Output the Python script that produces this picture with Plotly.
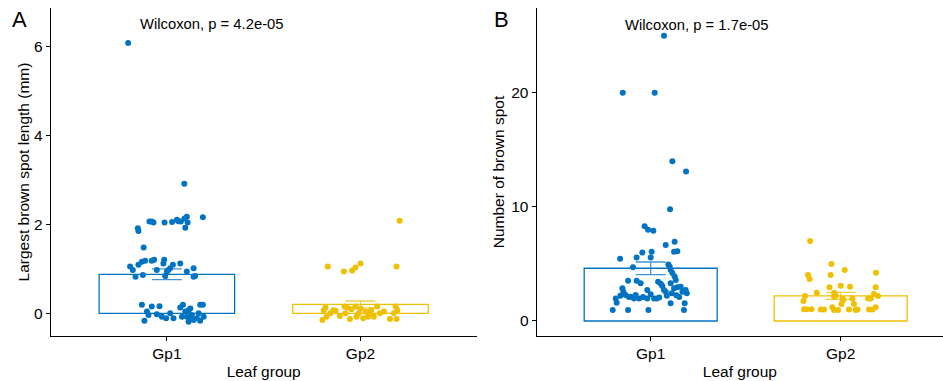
import plotly.graph_objects as go

# ---------------- data ----------------
groups = ["Gp1", "Gp2"]

# Panel A: largest brown spot length (mm) - plotted (jittered) values
a_gp1_len = [6.07, 2.91,
             1.91, 1.85, 2.06, 2.06, 2.04, 2.04, 2.05, 2.10, 2.07, 2.06, 2.13, 2.17, 2.04, 1.92, 2.16,
             1.48,
             1.05, 0.97, 0.82, 1.09, 0.86, 1.16, 1.18, 1.18, 1.20, 0.97, 1.20, 1.12, 0.84, 0.97, 1.01,
             1.09, 1.12, 0.94, 1.01, 0.82, 0.84, 0.94,
             0.19, -0.17, 0.04, -0.04, 0.15, -0.02, 0.16, -0.08, -0.11, 0.00, -0.11, 0.13, 0.19, 0.04,
             0.07, 0.11, -0.08, -0.19, -0.11, -0.15, -0.11, 0.00, 0.19, 0.19, -0.08, -0.17, -0.04, -0.08]
a_gp1_jit = [-0.200, 0.090,
             -0.150, -0.147, -0.090, -0.078, -0.069, -0.012, 0.027, 0.052, 0.060, 0.072, 0.091, 0.103, 0.107, 0.095, 0.186,
             -0.120,
             -0.190, -0.176, -0.162, -0.147, -0.124, -0.129, -0.112, -0.078, -0.066, -0.052, -0.014, -0.018, -0.009, 0.008, 0.017,
             0.031, 0.069, 0.103, 0.138, 0.138, 0.146, 0.000,
             -0.129, -0.116, -0.103, -0.095, -0.078, -0.052, -0.038, -0.026, -0.004, 0.017, 0.034, 0.069, 0.083, 0.095,
             0.112, 0.121, 0.103, 0.112, 0.117, 0.138, 0.155, 0.164, 0.172, 0.186, 0.190, 0.172, 0.129, 0.078]

a_gp2_len = [2.08, 1.05, 0.94, 0.96, 1.03, 1.12, 1.05,
             0.07, -0.15, 0.13, 0.00, 0.06, -0.06, 0.15, -0.13, 0.09, 0.15, 0.00, -0.11, 0.04, 0.00, -0.08,
             0.15, 0.00, -0.13, 0.15, -0.13, 0.07, -0.08, 0.07, 0.00, -0.08, 0.11, -0.08, 0.07, 0.04, 0.00, 0.13]
a_gp2_jit = [0.202, -0.169, -0.086, -0.043, -0.026, 0.000, 0.186,
             -0.190, -0.197, -0.181, -0.155, -0.129, -0.107, -0.083, -0.055, -0.047, -0.026, -0.009, 0.014, 0.026, 0.048, 0.069,
             0.086, 0.100, 0.152, 0.181, 0.186, 0.190, -0.176, -0.141, -0.078, -0.021, 0.000, 0.038, 0.055, 0.121, 0.172, -0.069]

# Panel B: number of brown spots - plotted (jittered) values
b_gp1_cnt = [25.0, 20.0, 20.0, 14.0, 13.1, 9.8, 8.3, 8.0, 7.9, 6.95, 6.65, 6.06, 6.12, 6.0, 6.06, 5.57, 5.57, 5.45,
             4.70, 4.96, 4.75, 4.50, 4.20, 3.90, 3.60, 3.53, 3.53, 3.30, 2.86, 2.57, 2.27, 2.71, 3.44, 3.27, 3.06,
             2.71, 2.57, 3.30, 2.86, 2.42, 2.95, 3.00, 2.57, 2.71, 2.42, 2.13, 1.98, 2.27, 1.98, 1.98, 1.98, 1.98,
             1.98, 1.60, 0.96, 0.96, 0.96, 0.96, 1.55, 1.55, 2.10, 2.25, 2.10, 2.10, 2.20, 2.20, 2.35, 2.05]
b_gp1_jit = [0.070, -0.147, 0.021, 0.114, 0.186, 0.102, -0.032, -0.014, 0.014, 0.126, 0.079, 0.123, 0.140, -0.044, 0.005, -0.074, 0.000, -0.161,
             -0.093, 0.093, 0.100, 0.105, 0.114, 0.126, 0.132, -0.119, -0.074, -0.053, -0.149, -0.144, -0.132, -0.018, 0.039, 0.053, 0.061,
             0.070, 0.079, 0.105, 0.123, 0.111, 0.140, 0.158, 0.167, 0.184, 0.190, -0.105, -0.088, -0.079, -0.061, -0.018, 0.018, 0.032,
             -0.184, -0.179, -0.200, -0.119, -0.012, 0.175, 0.105, 0.179, 0.150, 0.135, -0.115, -0.040, 0.085, -0.160, 0.000, 0.045]

b_gp2_cnt = [7.0, 4.99, 4.02, 3.67, 4.02, 4.46, 4.23, 3.09, 2.95, 3.00, 2.95, 2.48, 2.19, 1.75, 2.48, 2.20, 2.12,
             1.98, 1.84, 1.98, 1.49, 1.49, 2.36, 2.19, 1.98, 1.98, 1.02, 1.02, 1.02, 1.00, 1.00, 1.20, 0.96, 0.96,
             1.00, 0.96, 1.00, 1.00, 1.00, 1.20]
b_gp2_jit = [-0.161, -0.049, -0.172, -0.164, -0.053, 0.021, 0.186, 0.000, -0.059, 0.049, 0.184, -0.126, -0.188, -0.196, -0.035, -0.026, -0.035,
             0.009, 0.014, 0.061, 0.070, 0.004, 0.175, 0.196, 0.158, 0.144, -0.193, -0.179, -0.154, -0.105, -0.088, -0.044, -0.035, -0.014,
             0.044, 0.079, 0.088, 0.149, 0.167, 0.184]

# group means and standard errors (bars + error bars)
a_mean = [0.876, 0.20]
a_se = [0.12, 0.076]
b_mean = [4.62, 2.20]
b_se = [0.55, 0.30]

a_yticks = [0, 2, 4, 6]
b_yticks = [0, 10, 20]
a_label = "Wilcoxon, p = 4.2e-05"
b_label = "Wilcoxon, p = 1.7e-05"

# ---------------- styling ----------------
colors = ["#0073C2", "#EFC000"]
err_colors = ["rgba(0,115,194,0.75)", "rgba(239,192,0,0.75)"]
FONT = "Liberation Sans, Arial, sans-serif"
W, H = 943, 381

fig = go.Figure()

def add_panel(xa, ya, means, ses, pts):
    for i in range(2):
        fig.add_trace(go.Bar(
            x=[i + 1], y=[means[i]], width=0.7, xaxis=xa, yaxis=ya,
            marker=dict(color="rgba(255,255,255,0)", line=dict(color=colors[i], width=1.3)),
            error_y=dict(type="data", array=[ses[i]], color=err_colors[i], thickness=1.3, width=15),
            showlegend=False, hoverinfo="skip"))
    for i, (vals, jit) in enumerate(pts):
        fig.add_trace(go.Scatter(
            x=[i + 1 + j for j in jit], y=vals, mode="markers", xaxis=xa, yaxis=ya,
            marker=dict(color=colors[i], size=6, line=dict(width=0)),
            showlegend=False, hoverinfo="skip"))

add_panel("x", "y", a_mean, a_se, [(a_gp1_len, a_gp1_jit), (a_gp2_len, a_gp2_jit)])
add_panel("x2", "y2", b_mean, b_se, [(b_gp1_cnt, b_gp1_jit), (b_gp2_cnt, b_gp2_jit)])

axis_common = dict(showline=True, linecolor="black", linewidth=1.2, ticks="outside", ticklen=4,
                   tickcolor="black", tickwidth=1.2, showgrid=False, zeroline=False,
                   tickfont=dict(family=FONT, size=15.5, color="black"))

ytop, ybot = 8.3, 335.7
ydom = [1 - ybot / H, 1 - ytop / H]

fig.update_layout(
    width=W, height=H, margin=dict(l=0, r=0, t=0, b=0),
    paper_bgcolor="white", plot_bgcolor="white", barmode="overlay",
    font=dict(family=FONT, color="black"),
    xaxis=dict(domain=[50.7 / W, 476.7 / W], range=[0.4, 2.6], tickvals=[1, 2], ticktext=groups,
               title=dict(text="Leaf group", font=dict(size=15.5), standoff=4), **axis_common),
    yaxis=dict(domain=ydom, range=[-0.503, 6.85], tickvals=a_yticks,
               title=dict(text="Largest brown spot length (mm)", font=dict(size=15.5), standoff=0), **axis_common),
    xaxis2=dict(domain=[536.7 / W, 1.0], range=[0.4, 0.4 + (W - 536.7) / 190.0], tickvals=[1, 2], ticktext=groups,
                anchor="y2",
                title=dict(text="Leaf group", font=dict(size=15.5), standoff=4), **axis_common),
    yaxis2=dict(domain=ydom, range=[-1.29, 27.4], tickvals=b_yticks, anchor="x2",
                title=dict(text="Number of brown spot", font=dict(size=15.5), standoff=2), **axis_common),
    annotations=[
        dict(text="A", x=19.5 / W, y=1 - 19.5 / H, xref="paper", yref="paper", showarrow=False,
             xanchor="center", yanchor="middle", font=dict(size=22, family=FONT, color="black")),
        dict(text="B", x=501.5 / W, y=1 - 19.5 / H, xref="paper", yref="paper", showarrow=False,
             xanchor="center", yanchor="middle", font=dict(size=22, family=FONT, color="black")),
        dict(text=a_label, x=0.852, y=6.49, xref="x", yref="y", showarrow=False,
             xanchor="left", yanchor="middle", font=dict(size=14.8, family=FONT, color="black")),
        dict(text=b_label, x=0.854, y=25.96, xref="x2", yref="y2", showarrow=False,
             xanchor="left", yanchor="middle", font=dict(size=14.8, family=FONT, color="black")),
    ],
)

fig.write_html("out.html", config={"displayModeBar": False},
               post_script="document.body.style.margin='0';document.body.style.padding='0';"
                           "document.documentElement.style.overflow='hidden';")
